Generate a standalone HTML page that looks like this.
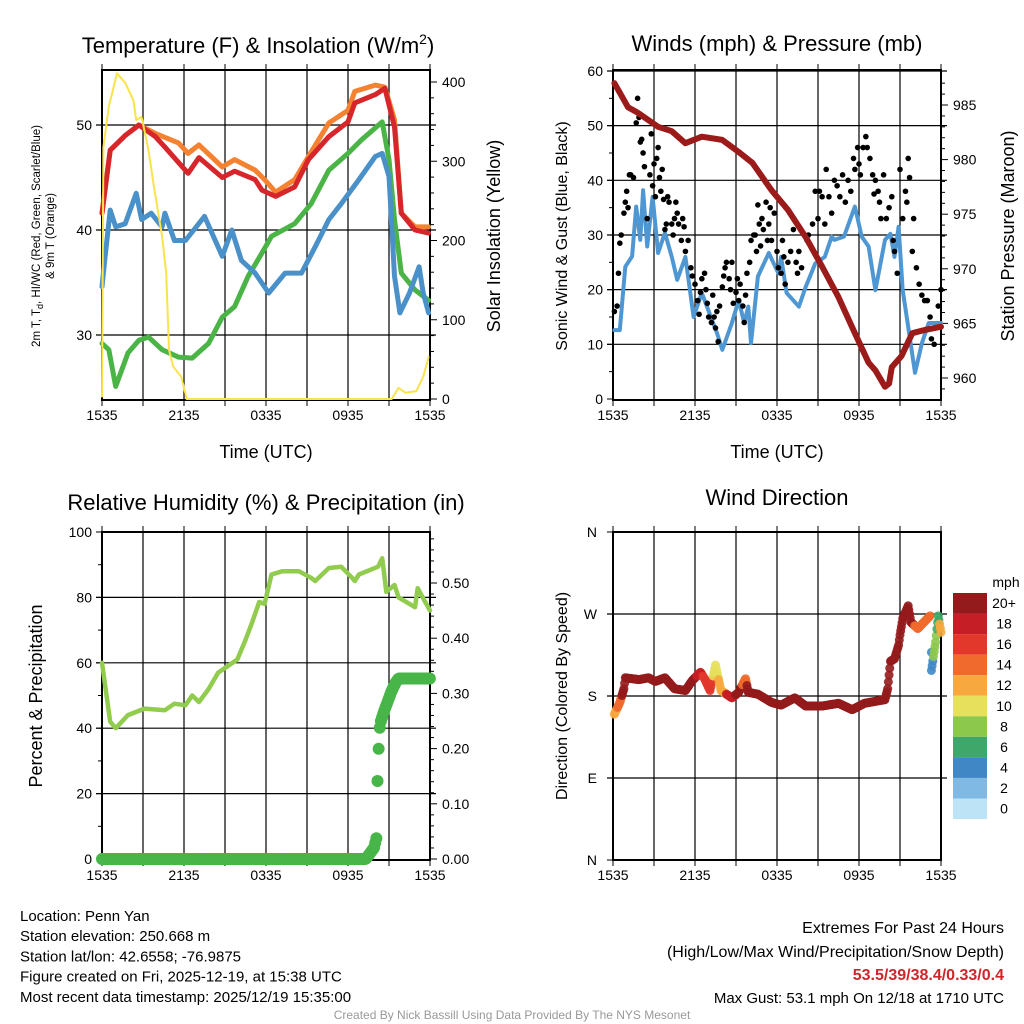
<!DOCTYPE html>
<html><head><meta charset="utf-8">
<style>
html,body{margin:0;padding:0;background:#fff;}
svg{display:block;font-family:"Liberation Sans",sans-serif;}
</style></head>
<body>
<svg id="c" width="1024" height="1024" viewBox="0 0 1024 1024"></svg>
<script>
// ---------- Panel 1 data ----------
const xTickLabels = ["1535","2135","0335","0935","1535"];
const tempH = [0,0.6,1.7,2.7,3.9,4.6,6.3,7.1,8.8,9.7,11.2,11.7,12.7,14.1,15.1,16.6,18,18.5,20,20.7,21.4,21.9,22.9,23.9];
const tempV = [41.6,47.6,49,50,48.9,47.9,45.4,46.9,45,45.6,44.8,43.8,43.2,44.1,46.7,48.9,50.3,52.1,52.9,53.5,49.8,41.6,40,39.7];
const t9H = [0,0.6,1.7,2.7,3.9,5.6,6.3,7.1,8.8,9.7,11.2,11.9,12.7,14.1,15.1,16.6,18,18.5,20,20.7,21.4,21.9,22.9,23.9];
const t9V = [41.6,47.6,49,50,49.2,48.3,47.3,48.1,46,46.7,45.7,44.8,43.6,44.8,47,50.2,51.4,53.2,53.8,53.6,50.5,41.6,40.3,40.3];
const hiH = [0,0.2,0.6,1,1.7,2.5,2.9,3.6,4.4,4.6,5.3,6.1,7.5,8.8,9.5,10.2,11.2,12.2,13.4,14.6,15.6,16.6,17.5,18.8,20,20.5,21,21.4,21.8,22.5,23.2,23.5,23.9];
const hiV = [34.6,37.1,41.9,40.3,40.6,43.5,41,41.6,40.3,41.6,39,39,41.3,37.5,40,37.1,35.9,34,35.9,35.9,38.4,41,42.5,44.8,47,47.3,45.1,35.6,32.1,34,36.5,34,32.1];
const tdH = [0,0.5,1,1.9,2.7,3.4,4.4,5.6,6.6,7.8,8.8,9.7,10.7,11.7,12.4,14.1,15.3,16.6,18,19,20.5,21,21.4,21.9,22.9,23.9];
const tdV = [29.2,28.6,25.1,28.3,29.5,29.8,28.6,27.9,27.8,29.2,31.7,32.7,35.6,37.8,39.4,40.6,42.5,45.7,47.3,48.6,50.3,46.7,41,35.9,34.3,33.3];
const solH = [0,0.1,0.5,1.1,1.7,2.3,2.5,2.9,3.4,3.8,4,4.4,4.7,4.9,5.2,5.8,6.2,21.2,21.7,22.2,23,23.5,23.9];
const solV = [3,318,369,411,399,377,352,356,314,268,247,205,159,62,41,28,0,0,14,8,10,28,53];
// ---------- Panel 2 data ----------
const presH = [0.1,1.1,1.8,3.3,4.3,5.3,6.5,8,9.2,10.2,11.6,12.8,14.1,15.3,16.5,17.7,18.7,19.2,19.9,20.2,20.4,21.1,21.9,22.8,24];
const presV = [987,984.8,984.3,983,982.6,981.5,982.1,981.8,980.7,979.7,977.2,975.4,972.9,970.2,967.4,964.1,961.4,960.7,959.2,959.5,961,962,964.1,964.4,964.7];
const windH = [0.1,0.5,0.9,1.4,1.7,2,2.2,2.5,2.9,3.3,3.8,4.3,4.7,5.3,5.9,6.5,7.6,8,8.7,9.2,9.6,9.9,10.1,10.6,11.4,12.1,12.3,12.7,13.6,14.1,14.8,15.5,16,16.2,16.9,17.7,18.2,18.7,19.2,19.9,20.3,20.6,20.9,21.2,21.6,22.1,22.6,23.1,23.7,24];
const windV = [12.6,12.6,24.2,26.1,35.2,29.1,38.2,27.9,37,26.7,30.4,26,21.8,26,15,19.4,12.1,9,13.9,18.1,13.9,16.9,10.2,22.4,26.7,23,26,19.4,16.9,20.5,24.8,26,29.7,29.1,29.7,35.2,29.7,27.9,19.9,29.1,30.2,26,31.5,19.9,13.2,4.8,10.2,13.9,13.9,13.9];
const gustH = [0.1,0.3,0.4,0.5,0.6,0.8,0.9,1.0,1.1,1.2,1.3,1.5,1.7,1.8,1.9,2.0,2.1,2.2,2.3,2.5,2.7,2.8,2.9,3.0,3.1,3.2,3.3,3.4,3.5,3.6,3.7,3.8,3.9,4.0,4.1,4.3,4.4,4.5,4.6,4.7,4.8,5.0,5.1,5.2,5.3,5.5,5.7,5.8,6.0,6.2,6.3,6.4,6.5,6.7,6.8,6.9,7.0,7.2,7.3,7.4,7.5,7.6,7.7,7.8,8.0,8.1,8.2,8.3,8.5,8.6,8.7,8.8,9.0,9.1,9.2,9.3,9.5,9.6,9.7,9.8,10.0,10.1,10.3,10.4,10.5,10.6,10.7,10.8,10.9,11.0,11.2,11.3,11.4,11.5,11.6,11.8,12.0,12.1,12.3,12.4,12.5,12.6,12.8,13.0,13.2,13.4,13.5,13.6,13.8,14.0,14.2,14.3,14.6,14.8,15.0,15.1,15.3,15.5,15.6,15.8,16.0,16.2,16.4,16.6,16.8,17.0,17.2,17.4,17.6,17.7,17.9,18.0,18.1,18.3,18.5,18.6,18.8,19.0,19.1,19.2,19.4,19.5,19.6,19.8,20.0,20.2,20.4,20.5,20.6,20.8,21.0,21.2,21.4,21.5,21.6,21.7,21.9,22.0,22.2,22.4,22.6,22.8,23.0,23.2,23.3,23.5,23.6,23.8,24.0];
const gustV = [16,17,23,28.5,30,34,36,38,35,41,41,40.5,50.5,55,51.5,47,47.5,45,42.5,33,41,48.5,39,43,37,44,46,40.5,38,42,36.5,31,32,37,36,32,30,33,36,34,32,29,33,31.5,27,29,24,22.5,21,18,15.5,19.5,22,23,20,17.5,15,14,19,15,13,16,10.5,17,20.5,22.5,24,25,22,20,25,17.5,19.5,22,18,21,17,14,19,23,25,29,30,30,27,35.5,32,28,33,31,36,29,32,35,29,34,27,24,23,29,26,21,25,27,31,25,23,27,24,30,29,30,32,38,33,38,37,32,42,37,34,40,39,37,41,36,40,38,44,42,46,43,41,46,48,46,44,41,37.5,40,38,36,33,41,33,35,37,29,27,23,42,33,38,36,44,40.5,27,33,24,21,19,18,18,15,11,10,13,17,20];
// ---------- Panel 3 data ----------
const rhH = [0,0.6,1,1.9,3.1,4.6,5.3,6.1,6.6,7.1,7.8,8.5,9.2,9.9,10.5,11,11.5,11.9,12.4,13.2,14.4,15.3,15.6,16.6,17.5,18.3,18.5,18.8,20.2,20.5,20.8,21.4,21.7,22.9,23.1,23.6,24];
const rhV = [60,42,40,44,46,45.5,47.5,47,50,48,52,57,59,61,67,72.5,78.6,78,87,88,88,86,85,89,89.4,86,85,87,89.4,92,81.7,83.8,80,77,82.8,79,76];
const pcpH = [0,19.3,19.6,19.9,20.1,20.15,20.2,20.25,20.3,20.4,20.6,20.9,21.2,21.5,21.7,24];
const pcpV = [0,0,0.01,0.02,0.04,0.134,0.177,0.204,0.234,0.249,0.265,0.285,0.305,0.32,0.327,0.327];
// ---------- Panel 4 data ----------
const dirH = [0.1,0.5,0.8,0.9,1.9,2.6,3.1,3.8,4.5,5.3,5.8,6.4,6.7,7.1,7.5,7.9,8.7,9.2,9.7,9.9,10.6,11.6,12.3,13.3,14.1,15.3,16.5,17.5,18.4,19.9,20.1,20.3,20.6,20.9,21,21.2,21.6,21.8,22.3,23.2,23.3,23.3,23.6,23.8,24];
const dirV = [160,173,188,200,198,200,196,200,188,186,197,206,199,186,214,186,178,184,199,184,182,173,170,178,169,169,172,165,172,176,188,218,221,236,247,265,279,261,254,268,228,208,239,268,250];
const dirS = [13,14,22,22,22,22,22,22,22,22,22,19,17,17,10,13,19,22,14,22,22,22,22,22,22,22,22,22,22,22,22,22,22,22,22,22,22,20,15,15,4,4,8,7,13];
const cbLabels = ["20+","18","16","14","12","10","8","6","4","2","0"];
const cbColors = ["#941b1c","#c61e26","#e2372b","#f06a2e","#f7a83e","#e6e05c","#8cc84b","#3fa76a","#3f88c5","#80b9e3","#bde3f7"];

const NS="http://www.w3.org/2000/svg";
const svg=document.getElementById('c');
function mk(tag,attrs,parent){const e=document.createElementNS(NS,tag);for(const k in attrs)e.setAttribute(k,attrs[k]);(parent||svg).appendChild(e);return e;}
function txt(s,x,y,size,anchor,parent,extra){const t=mk('text',Object.assign({x:x,y:y,'font-size':size,'text-anchor':anchor||'middle',fill:'#000'},extra||{}),parent);t.textContent=s;return t;}
function interp(H,V,h){if(h<=H[0])return V[0];for(let i=1;i<H.length;i++){if(h<=H[i]){const f=(h-H[i-1])/(H[i]-H[i-1]);return V[i-1]+f*(V[i]-V[i-1]);}}return V[V.length-1];}

function frame(g,x0,y0,w,h,hgrid){
  for(let i=1;i<8;i++){const x=x0+w*i/8;
    const l=mk('line',{x1:x,y1:y0,x2:x,y2:y0+h,stroke:'#000','stroke-width':1.2},g);
    }
  for(let i=0;i<=8;i++){const x=x0+w*i/8;
    mk('line',{x1:x,y1:y0-6,x2:x,y2:y0,stroke:'#000','stroke-width':1},g);
    mk('line',{x1:x,y1:y0+h,x2:x,y2:y0+h+6,stroke:'#000','stroke-width':1},g);}
  hgrid.forEach(y=>{const l=mk('line',{x1:x0-6,y1:y,x2:x0+w+6,y2:y,stroke:'#000','stroke-width':1.2},g);
    });
  const r=mk('rect',{x:x0,y:y0,width:w,height:h,fill:'none',stroke:'#000','stroke-width':2},g);
  
  xTickLabels.forEach((s,i)=>{const t=txt(s,x0+w*i/4,y0+h+20,14,'middle',g);
    });
}
function linePath(g,H,V,xf,yf,color,width,name){
  let d='';H.forEach((h,i)=>{d+=(i?'L':'M')+xf(h).toFixed(1)+','+yf(V[i]).toFixed(1);});
  const p=mk('path',{d:d,fill:'none',stroke:color,'stroke-width':width,'stroke-linejoin':'round','stroke-linecap':'round'},g);
  return p;
}

// ================= Panel 1 =================
{
const g=mk('g',{});
const x0=102,y0=70,w=328,h=330;
const xs=hh=>x0+hh*w/24;
const yT=v=>335-(v-30)*10.5;
const yS=v=>399-v*0.7925;
frame(g,x0,y0,w,h,[yT(30),yT(40),yT(50)]);
[30,40,50].forEach(v=>{const t=txt(String(v),x0-10,yT(v)+5,14,'end',g);});
[0,100,200,300,400].forEach(v=>{mk('line',{x1:x0+w,y1:yS(v),x2:x0+w+7,y2:yS(v),stroke:'#000'},g);
  const t=txt(String(v),x0+w+12,yS(v)+5,14,'start',g);});
for(let v=20;v<415;v+=20){if(v%100)mk('line',{x1:x0+w,y1:yS(v),x2:x0+w+4,y2:yS(v),stroke:'#000'},g);}
const cl=mk('g',{'clip-path':'url(#clip1)'},g);
mk('clipPath',{id:'clip1'},g).appendChild(mk('rect',{x:x0-3,y:y0,width:w+6,height:h},g));
linePath(cl,tdH,tdV,xs,yT,'#4bb446',5,'dewpoint-line');
linePath(cl,hiH,hiV,xs,yT,'#4a90c9',5,'windchill-line');
linePath(cl,t9H,t9V,xs,yT,'#f58231',5,'temp-9m-line');
linePath(cl,tempH,tempV,xs,yT,'#d7262b',5,'temp-2m-line');
linePath(cl,solH,solV,xs,yS,'#fbe34b',2,'insolation-line');
let t=txt('Temperature (F) & Insolation (W/m',258,53,22,'middle',g);
const sup=mk('tspan',{dy:-9,'font-size':14},t);sup.textContent='2';
const cp=mk('tspan',{dy:9},t);cp.textContent=')';
t=txt('Time (UTC)',266,458,18,'middle',g);
t=txt('Solar Insolation (Yellow)',0,0,18,'middle',g,{transform:'translate(500,236) rotate(-90)'});
t=txt('',0,0,11.5,'middle',g,{transform:'translate(40,236) rotate(-90)'});
t.innerHTML='2m T, T<tspan dy="3" font-size="9">d</tspan><tspan dy="-3">, HI/WC (Red, Green, Scarlet/Blue)</tspan>';
t=txt('& 9m T (Orange)',0,0,11.5,'middle',g,{transform:'translate(54,236) rotate(-90)'});
}

// ================= Panel 2 =================
{
const g=mk('g',{});
const x0=613,y0=70,w=328,h=330;
const xs=hh=>x0+hh*w/24;
const yW=v=>399-v*5.467;
const yP=v=>378-(v-960)*10.92;
frame(g,x0,y0,w,h,[yW(10),yW(20),yW(30),yW(40),yW(50),yW(60)]);
[0,10,20,30,40,50,60].forEach(v=>{mk('line',{x1:x0-6,y1:yW(v),x2:x0,y2:yW(v),stroke:'#000'},g);
  const t=txt(String(v),x0-10,yW(v)+5,14,'end',g);});
for(let v=5;v<60;v+=10)mk('line',{x1:x0-4,y1:yW(v),x2:x0,y2:yW(v),stroke:'#000'},g);
[960,965,970,975,980,985].forEach(v=>{mk('line',{x1:x0+w,y1:yP(v),x2:x0+w+7,y2:yP(v),stroke:'#000'},g);
  const t=txt(String(v),x0+w+12,yP(v)+5,14,'start',g);});
for(let v=959;v<988;v++){if(v%5)mk('line',{x1:x0+w,y1:yP(v),x2:x0+w+4,y2:yP(v),stroke:'#000'},g);}
linePath(g,windH,windV,xs,yW,'#4f97d3',4,'sonic-wind-line');
gustH.forEach((hh,i)=>{const c=mk('circle',{cx:xs(hh),cy:yW(gustV[i]),r:2.8,fill:'#000'},g);
  });
linePath(g,presH,presV,xs,yP,'#9b1b1b',6,'pressure-line');
let t=txt('Winds (mph) & Pressure (mb)',777,51,22,'middle',g);
t=txt('Time (UTC)',777,458,18,'middle',g);
t=txt('Sonic Wind & Gust (Blue, Black)',0,0,16,'middle',g,{transform:'translate(567,236) rotate(-90)'});
t=txt('Station Pressure (Maroon)',0,0,18,'middle',g,{transform:'translate(1014,236) rotate(-90)'});
}

// ================= Panel 3 =================
{
const g=mk('g',{});
const x0=102,y0=532,w=328,h=328;
const xs=hh=>x0+hh*w/24;
const yR=v=>859-v*3.27;
const yQ=v=>859-v*552;
frame(g,x0,y0,w,h,[yR(20),yR(40),yR(60),yR(80)]);
[0,20,40,60,80,100].forEach(v=>{mk('line',{x1:x0-6,y1:yR(v),x2:x0,y2:yR(v),stroke:'#000'},g);
  const t=txt(String(v),x0-10,yR(v)+5,14,'end',g);});
for(let v=10;v<100;v+=20)mk('line',{x1:x0-4,y1:yR(v),x2:x0,y2:yR(v),stroke:'#000'},g);
["0.00","0.10","0.20","0.30","0.40","0.50"].forEach((s,i)=>{const v=i*0.1;mk('line',{x1:x0+w,y1:yQ(v),x2:x0+w+7,y2:yQ(v),stroke:'#000'},g);
  const t=txt(s,x0+w+12,yQ(v)+5,14,'start',g);});
for(let v=0.02;v<0.59;v+=0.02){if(Math.round(v*100)%10)mk('line',{x1:x0+w,y1:yQ(v),x2:x0+w+4,y2:yQ(v),stroke:'#000'},g);}
linePath(g,rhH,rhV,xs,yR,'#92cc4f',4.5,'humidity-line');
for(let hh=0;hh<=24.001;hh+=0.0833){
  const v=interp(pcpH,pcpV,hh);
  const c=mk('circle',{cx:xs(hh),cy:yQ(v),r:6,fill:'#48b548'},g);
  }
let t=txt('Relative Humidity (%) & Precipitation (in)',266,510,22,'middle',g);
t=txt('Percent & Precipitation',0,0,18,'middle',g,{transform:'translate(42,696) rotate(-90)'});
}

// ================= Panel 4 =================
{
const g=mk('g',{});
const x0=613,y0=532,w=328,h=328;
const xs=hh=>x0+hh*w/24;
const yD=v=>860-v*(328/360);
frame(g,x0,y0,w,h,[yD(90),yD(180),yD(270)]);
["N","E","S","W","N"].forEach((s,i)=>{const v=i*90;mk('line',{x1:x0-6,y1:yD(v),x2:x0,y2:yD(v),stroke:'#000'},g);
  const t=txt(s,x0-16,yD(v)+5,14,'end',g);});
const colOf=s=>cbColors[Math.max(0,Math.min(10,10-Math.floor(s/2)))];
for(let i=0;i<dirH.length;i++){
  const n=(i<dirH.length-1 && dirH[i+1]-dirH[i]>0.05 && Math.abs(dirV[i+1]-dirV[i])<40)?Math.ceil((dirH[i+1]-dirH[i])/0.06):1;
  for(let k=0;k<n;k++){const f=k/n;
    const hh=dirH[i]+(i<dirH.length-1?f*(dirH[i+1]-dirH[i]):0);
    const vv=dirV[i]+(i<dirH.length-1&&n>1?f*(dirV[i+1]-dirV[i]):0);
    const c=mk('circle',{cx:xs(hh),cy:yD(vv),r:4.5,fill:colOf(k<n/2?dirS[i]:(dirS[i+1]!==undefined?dirS[i+1]:dirS[i])),'fill-opacity':0.9},g);
    }
}
let t=txt('Wind Direction',777,505,22,'middle',g);
t=txt('Direction (Colored By Speed)',0,0,16,'middle',g,{transform:'translate(567,696) rotate(-90)'});
const lg=mk('g',{},g);
t=txt('mph',1006,587,14,'middle',lg);
cbLabels.forEach((s,i)=>{const y=593+i*20.55;
  const r=mk('rect',{x:953,y:y,width:34,height:20.55,fill:cbColors[i]},lg);
  const l=txt(s,1004,y+15,14,'middle',lg);});
}

// ================= Footer text =================
{
const g=mk('g',{});
["Location: Penn Yan","Station elevation: 250.668 m","Station lat/lon: 42.6558; -76.9875","Figure created on Fri, 2025-12-19, at 15:38 UTC","Most recent data timestamp: 2025/12/19 15:35:00"].forEach((s,i)=>{
  const t=txt(s,20,921+i*20.2,15,'start',g);});
const g2=mk('g',{});
let t=txt('Extremes For Past 24 Hours',1004,933,16,'end',g2);
t=txt('(High/Low/Max Wind/Precipitation/Snow Depth)',1004,957,16,'end',g2);
t=txt('53.5/39/38.4/0.33/0.4',1004,980,16,'end',g2,{fill:'#d0262b','font-weight':'bold'});
t=txt('Max Gust: 53.1 mph On 12/18 at 1710 UTC',1004,1003,15,'end',g2);
t=txt('Created By Nick Bassill Using Data Provided By The NYS Mesonet',512,1019,12,'middle',svg,{fill:'#999'});
}
</script>
</body></html>
